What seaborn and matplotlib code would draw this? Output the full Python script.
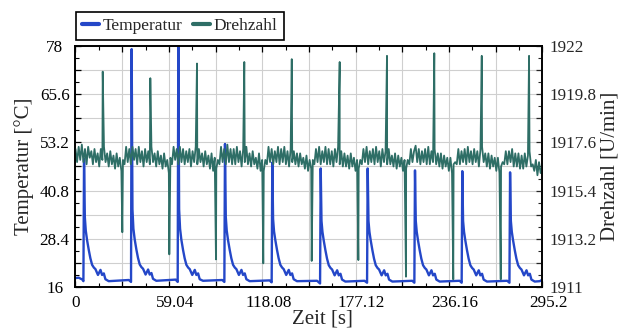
import numpy as np
import pandas as pd
import matplotlib
matplotlib.use("Agg")
import matplotlib.pyplot as plt
import matplotlib.transforms as mtransforms
from matplotlib.lines import Line2D
from matplotlib.ticker import LinearLocator, FuncFormatter
import seaborn as sns

# ---------------------------------------------------------------- data
# Temperatur-Verlauf: Zeitpunkte [s] und Werte [°C], je Zeile ein Zyklus
temp_zeit_s = [
    0.0, 2.0, 4.4, 5.0,
    5.4, 5.9, 6.5, 7.3, 8.4, 9.4, 10.5, 11.6, 12.6, 14.2, 15.8, 16.8, 17.9, 18.9, 21.0, 33.7, 35.1,
    35.5, 36.0, 36.6, 37.4, 38.5, 39.5, 40.6, 41.7, 42.7, 44.3, 45.9, 46.9, 48.0, 49.0, 51.1, 63.3, 64.6,
    65.0, 65.5, 66.1, 66.9, 68.0, 69.0, 70.1, 71.2, 72.2, 73.8, 75.4, 76.4, 77.5, 78.5, 80.6, 92.8, 94.1,
    94.5, 95.0, 95.6, 96.4, 97.5, 98.5, 99.6, 100.7, 101.7, 103.3, 104.9, 105.9, 107.0, 108.0, 110.1, 122.7, 124.0,
    124.4, 124.9, 125.5, 126.3, 127.4, 128.4, 129.5, 130.6, 131.6, 133.2, 134.8, 135.8, 136.9, 137.9, 140.0, 152.7, 154.6,
    155.0, 155.5, 156.1, 156.9, 158.0, 159.0, 160.1, 161.2, 162.2, 163.8, 165.4, 166.4, 167.5, 168.5, 170.6, 182.7, 184.3,
    184.7, 185.2, 185.8, 186.6, 187.7, 188.7, 189.8, 190.9, 191.9, 193.5, 195.1, 196.1, 197.2, 198.2, 200.3, 212.9, 214.2,
    214.6, 215.1, 215.7, 216.5, 217.6, 218.6, 219.7, 220.8, 221.8, 223.4, 225.0, 226.0, 227.1, 228.1, 230.2, 242.8, 244.1,
    244.5, 245.0, 245.6, 246.4, 247.5, 248.5, 249.6, 250.7, 251.7, 253.3, 254.9, 255.9, 257.0, 258.0, 260.1, 272.9, 274.3,
    274.7, 275.2, 275.8, 276.6, 277.7, 278.7, 279.8, 280.9, 281.9, 283.5, 285.1, 286.1, 287.2, 288.2, 290.3, 293.5, 295.2,
]
temp_grad_c = [
    18.3, 18.4, 17.9, 17.5,
    49.0, 34.0, 30.5, 28.1, 25.5, 23.4, 21.7, 21.0, 20.6, 19.1, 20.4, 19.1, 19.5, 18.0, 17.5, 17.8, 17.3,
    77.2, 36.0, 31.0, 28.3, 25.6, 23.5, 21.8, 21.1, 20.7, 19.2, 20.5, 19.2, 19.6, 18.1, 17.6, 17.9, 17.3,
    79.5, 36.0, 31.0, 28.2, 25.5, 23.4, 21.7, 21.0, 20.6, 19.1, 20.4, 19.1, 19.5, 18.0, 17.6, 17.8, 17.3,
    52.8, 34.0, 30.5, 28.1, 25.5, 23.4, 21.7, 21.0, 20.6, 19.1, 20.4, 19.1, 19.5, 18.0, 17.5, 17.7, 17.2,
    48.0, 33.5, 30.3, 28.1, 25.5, 23.4, 21.7, 21.0, 20.6, 19.1, 20.4, 19.1, 19.5, 18.0, 17.5, 17.6, 16.9,
    46.5, 33.0, 30.2, 28.0, 25.4, 23.3, 21.6, 20.9, 20.5, 19.0, 20.3, 19.0, 19.4, 17.9, 17.4, 17.6, 17.1,
    46.5, 33.0, 30.2, 28.0, 25.4, 23.3, 21.6, 20.9, 20.5, 19.0, 20.3, 19.0, 19.4, 17.9, 17.4, 17.6, 17.1,
    46.0, 33.0, 30.2, 28.0, 25.4, 23.3, 21.6, 20.9, 20.5, 19.0, 20.3, 19.0, 19.4, 17.9, 17.4, 17.6, 17.1,
    45.8, 33.0, 30.2, 28.0, 25.4, 23.3, 21.6, 20.9, 20.5, 19.0, 20.3, 19.0, 19.4, 17.9, 17.4, 17.6, 17.1,
    45.5, 33.0, 30.2, 28.0, 25.4, 23.3, 21.6, 20.9, 20.5, 19.0, 20.3, 19.0, 19.4, 17.9, 17.4, 17.5, 17.9,
]

# Drehzahl: Messwerte im 1-s-Raster [U/min], t = 0 ... 295 s
drehzahl_raster_s = np.arange(0.0, 296.0, 1.0)
drehzahl_raster_u_min = [
    1917.3, 1916.7, 1917.4, 1916.8, 1917.5, 1916.7, 1917.3, 1916.6, 1917.4, 1916.9,
    1917.2, 1916.6, 1917.3, 1916.7, 1917.1, 1916.5, 1917.3, 1916.8, 1917.4, 1916.7,
    1917.1, 1916.5, 1917.2, 1916.6, 1917.0, 1916.4, 1917.1, 1916.5, 1916.9, 1916.3,
    1916.8, 1916.6, 1917.4, 1916.7, 1917.3, 1916.6, 1917.4, 1916.8, 1917.3, 1916.6,
    1917.4, 1916.7, 1917.2, 1916.5, 1917.3, 1916.7, 1917.2, 1916.6, 1917.4, 1916.7,
    1917.1, 1916.5, 1917.2, 1916.6, 1917.0, 1916.4, 1917.1, 1916.5, 1916.8, 1916.2,
    1916.9, 1916.6, 1917.4, 1916.8, 1917.3, 1916.6, 1917.4, 1916.7, 1917.3, 1916.6,
    1917.2, 1916.7, 1917.3, 1916.5, 1917.2, 1916.7, 1917.4, 1916.6, 1917.3, 1916.7,
    1917.1, 1916.5, 1917.2, 1916.6, 1917.0, 1916.4, 1917.1, 1916.3, 1916.9, 1916.4,
    1916.8, 1916.6, 1917.4, 1916.7, 1917.3, 1916.6, 1917.5, 1916.7, 1917.3, 1916.6,
    1917.3, 1916.6, 1917.4, 1916.7, 1917.2, 1916.5, 1917.3, 1916.7, 1917.4, 1916.6,
    1917.1, 1916.5, 1917.2, 1916.6, 1916.9, 1916.4, 1917.1, 1916.3, 1916.8, 1916.3,
    1916.8, 1916.6, 1917.4, 1916.7, 1917.3, 1916.6, 1917.2, 1916.7, 1917.4, 1916.6,
    1917.3, 1916.7, 1917.4, 1916.6, 1917.2, 1916.5, 1917.3, 1916.7, 1917.2, 1916.6,
    1917.1, 1916.5, 1917.1, 1916.6, 1916.9, 1916.4, 1917.0, 1916.3, 1916.8, 1916.4,
    1916.8, 1916.6, 1917.3, 1916.7, 1917.4, 1916.6, 1917.2, 1916.7, 1917.4, 1916.6,
    1917.3, 1916.6, 1917.2, 1916.5, 1917.3, 1916.7, 1917.4, 1916.6, 1917.2, 1916.5,
    1917.1, 1916.5, 1917.0, 1916.4, 1917.1, 1916.5, 1916.9, 1916.3, 1916.8, 1916.4,
    1916.8, 1916.6, 1917.3, 1916.7, 1917.4, 1916.6, 1917.2, 1916.7, 1917.3, 1916.6,
    1917.4, 1916.7, 1917.2, 1916.5, 1917.3, 1916.7, 1917.2, 1916.6, 1917.3, 1916.6,
    1917.0, 1916.5, 1917.1, 1916.4, 1917.0, 1916.5, 1916.9, 1916.3, 1916.8, 1916.4,
    1916.8, 1916.6, 1917.3, 1916.7, 1917.2, 1917.45, 1916.7, 1917.3, 1916.6, 1917.2,
    1916.7, 1917.3, 1916.6, 1917.4, 1916.6, 1917.2, 1916.7, 1917.3, 1916.6, 1917.1,
    1916.5, 1917.1, 1916.4, 1917.0, 1916.5, 1916.9, 1916.3, 1916.9, 1916.2, 1916.6,
    1916.7, 1916.6, 1917.3, 1916.6, 1917.2, 1916.7, 1917.3, 1916.6, 1917.4, 1916.7,
    1917.2, 1916.6, 1917.3, 1916.7, 1917.2, 1916.5, 1917.3, 1917.4, 1916.7, 1917.1,
    1916.5, 1917.1, 1916.4, 1917.0, 1916.5, 1916.9, 1916.3, 1916.9, 1916.2, 1916.5,
    1916.7, 1916.6, 1917.2, 1916.6, 1917.2, 1916.7, 1917.3, 1916.5, 1917.1, 1916.5,
    1917.1, 1916.4, 1917.0, 1916.4, 1917.1, 1916.5, 1917.0, 1917.2, 1916.5, 1916.6,
    1916.3, 1916.8, 1916.1, 1916.7, 1916.2, 1916.5,
]

# kurze Drehzahlspitzen nach oben
spitze_zeit_s = [17.2, 47.3, 76.8, 106.7, 136.7, 167.0, 196.9, 226.8, 256.8, 286.7]
spitze_u_min = [1920.83, 1920.53, 1921.2, 1921.27, 1921.4, 1921.27, 1921.55, 1921.67, 1921.55, 1921.55]

# kurze Drehzahleinbrüche nach unten
einbruch_zeit_s = [29.6, 59.3, 88.8, 118.7, 149.3, 178.8, 208.9, 238.8, 268.8]
einbruch_u_min = [1913.5, 1912.49, 1912.26, 1912.08, 1912.19, 1912.23, 1911.47, 1911.35, 1911.35]

# Achsen
zeit_grenzen = (0.0, 295.2)
temp_grenzen = (16.0, 78.0)
drehzahl_grenzen = (1911.0, 1922.0)

FARBE_TEMP = "#2447c8"
FARBE_DREH = "#2e6e66"

# ---------------------------------------------------------------- frames
temp_df = pd.DataFrame({"Zeit": temp_zeit_s, "Temperatur": temp_grad_c})

dreh_df = pd.DataFrame({
    "Zeit": np.concatenate([drehzahl_raster_s, spitze_zeit_s, einbruch_zeit_s]),
    "Drehzahl": np.concatenate([drehzahl_raster_u_min, spitze_u_min, einbruch_u_min]),
}).sort_values("Zeit").reset_index(drop=True)

# ---------------------------------------------------------------- style
sns.set_style("white")
plt.rcParams["font.family"] = ["Liberation Serif", "DejaVu Serif"]

fig = plt.figure(figsize=(6.27, 3.28), dpi=100)
ax = fig.add_axes([0.12041, 0.125, 0.74482, 0.73476])
ax2 = ax.twinx()

sns.lineplot(data=temp_df, x="Zeit", y="Temperatur", ax=ax, color=FARBE_TEMP,
             lw=1.7, estimator=None, sort=False, legend=False)
sns.lineplot(data=dreh_df, x="Zeit", y="Drehzahl", ax=ax2, color=FARBE_DREH,
             lw=1.3, estimator=None, sort=False, legend=False)

ax.set_xlim(*zeit_grenzen)
ax.set_ylim(*temp_grenzen)
ax2.set_ylim(*drehzahl_grenzen)


def jede_zweite(wert, pos):
    return f"{wert:.6g}" if pos is not None and pos % 2 == 0 else ""


for achse in (ax.xaxis, ax.yaxis, ax2.yaxis):
    achse.set_major_locator(LinearLocator(11))
    achse.set_minor_locator(LinearLocator(21))
    achse.set_major_formatter(FuncFormatter(jede_zweite))

ax.grid(True, which="major", color="#cfcfcf", lw=0.8)
ax2.grid(False)
ax.set_axisbelow(True)

tick_font = 12.3
ax.tick_params(axis="both", which="both", direction="in", top=True, bottom=True,
               left=True, right=False, colors="black", labelsize=tick_font)
ax.tick_params(axis="both", which="major", length=4, width=0.9)
ax.tick_params(axis="both", which="minor", length=3, width=0.8)
ax.tick_params(axis="y", which="major", pad=15)
ax.tick_params(axis="x", which="major", pad=5.5)
ax2.tick_params(axis="y", which="both", direction="in", right=True, left=False,
                labelsize=tick_font, pad=5)
ax2.tick_params(axis="y", which="major", length=4, width=0.9)
ax2.tick_params(axis="y", which="minor", length=3, width=0.8)

for a in (ax, ax2):
    for s in a.spines.values():
        s.set_color("black")
        s.set_linewidth(1.2)

label_font = 15
ax.set_xlabel("Zeit [s]", fontsize=label_font)
ax.set_ylabel("Temperatur [°C]", fontsize=label_font)
ax2.set_ylabel("Drehzahl [U/min]", fontsize=label_font)
ax.xaxis.set_label_coords(0.528, -0.095)
ax.yaxis.set_label_coords(-0.088, 0.5)
ax2.yaxis.set_label_coords(1.124, 0.5)

fig.canvas.draw()
plt.setp(ax.get_yticklabels(), ha="center")
verschiebung = mtransforms.ScaledTranslation(6 / 100, 0, fig.dpi_scale_trans)
for i, lbl in enumerate(ax.get_xticklabels()):
    if i > 0:
        lbl.set_transform(lbl.get_transform() + verschiebung)

griffe = [Line2D([], [], color=FARBE_TEMP, lw=3),
          Line2D([], [], color=FARBE_DREH, lw=3)]
leg = fig.legend(griffe, ["Temperatur", "Drehzahl"], loc="lower left",
                 bbox_to_anchor=(76 / 627, 1 - 40 / 328), bbox_transform=fig.transFigure,
                 ncol=2, fontsize=12.5, frameon=True, fancybox=False, framealpha=1,
                 edgecolor="black", handlelength=1.0, handletextpad=0.2,
                 columnspacing=0.6, borderpad=0.35, borderaxespad=0)
leg.get_frame().set_linewidth(1.2)

fig.savefig("out.png", dpi=100)
